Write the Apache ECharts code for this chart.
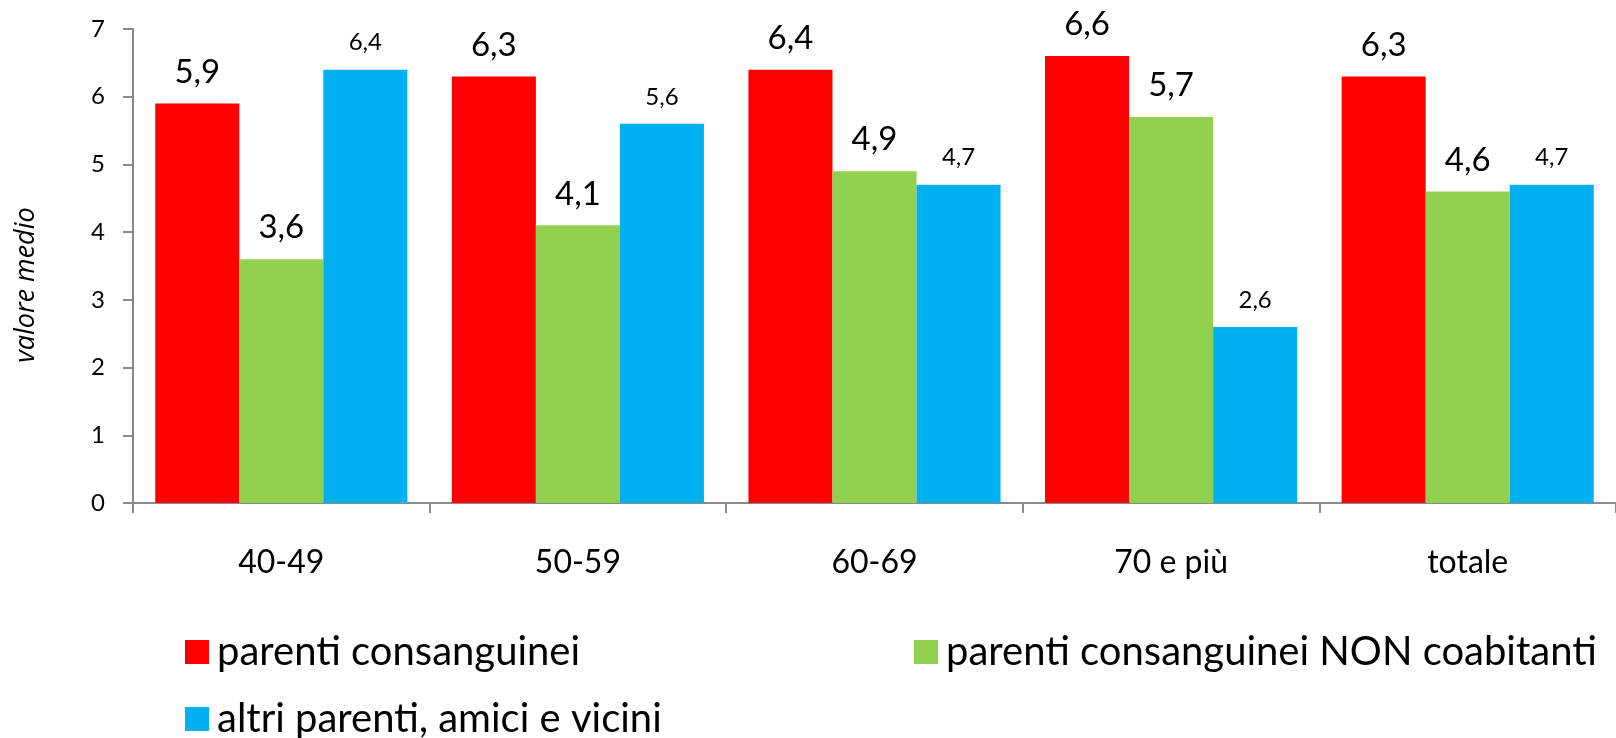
<!DOCTYPE html>
<html>
<head>
<meta charset="utf-8">
<script src="https://cdn.jsdelivr.net/npm/echarts@6/dist/echarts.min.js"></script>
<style>
  html, body { margin: 0; padding: 0; background: #fff; }
  #chart { width: 1616px; height: 738px; }
</style>
</head>
<body>
<div id="chart"></div>
<script>
// Age groups and mean values per type of relationship
const categories = ['40-49', '50-59', '60-69', '70 e più', 'totale'];
const seriesNames = [
  'parenti consanguinei',
  'parenti consanguinei NON coabitanti',
  'altri parenti, amici e vicini'
];
const consanguinei = [5.9, 6.3, 6.4, 6.6, 6.3];
const nonCoabitanti = [3.6, 4.1, 4.9, 5.7, 4.6];
const altriParenti = [6.4, 5.6, 4.7, 2.6, 4.7];
const yTicks = [0, 1, 2, 3, 4, 5, 6, 7];

const FONT = 'Lato';
const axisGray = '#8a8a8a';
const fmt = p => p.value.toFixed(1).replace('.', ',');

function barSeries(name, data, color, labelSize) {
  return {
    name: name,
    type: 'bar',
    data: data,
    barGap: '0%',
    barCategoryGap: '15%',
    itemStyle: { color: color },
    label: {
      show: true,
      position: 'top',
      distance: 15,
      formatter: fmt,
      color: '#000',
      fontFamily: FONT,
      fontSize: labelSize
    }
  };
}

// one legend block per entry, laid out in two columns
function legendItem(name, left, top) {
  return {
    data: [name],
    left: left,
    top: top,
    padding: 0,
    itemWidth: 24,
    itemHeight: 24,
    icon: 'rect',
    textStyle: { color: '#000', fontFamily: FONT, fontSize: 40, lineHeight: 44, padding: [0, 0, 0, 3] }
  };
}

const chart = echarts.init(document.getElementById('chart'), null, { renderer: 'canvas' });
chart.setOption({
  animation: false,
  backgroundColor: '#fff',
  textStyle: { fontFamily: FONT },
  grid: { left: 133, right: -11, top: 29, bottom: 235, containLabel: false },
  xAxis: {
    type: 'category',
    data: categories,
    axisLine: { show: true, lineStyle: { color: axisGray, width: 2 } },
    axisTick: { show: true, alignWithLabel: false, length: 10, lineStyle: { color: axisGray, width: 2 } },
    axisLabel: { color: '#000', fontFamily: FONT, fontSize: 32, margin: 44, interval: 0 },
    splitLine: { show: false }
  },
  yAxis: {
    type: 'value',
    min: yTicks[0],
    max: yTicks[yTicks.length - 1],
    interval: 1,
    name: 'valore medio',
    nameLocation: 'middle',
    nameRotate: 90,
    nameGap: 93,
    nameTextStyle: { color: '#000', fontFamily: 'Open Sans', fontStyle: 'italic', fontSize: 27, padding: [0, 38, 0, 0] },
    axisLine: { show: true, lineStyle: { color: axisGray, width: 2 } },
    axisTick: { show: true, inside: false, length: 10, lineStyle: { color: axisGray, width: 2 } },
    axisLabel: { color: '#000', fontFamily: FONT, fontSize: 24, margin: 28 },
    splitLine: { show: false }
  },
  legend: [
    legendItem(seriesNames[0], 185, 630),
    legendItem(seriesNames[1], 914, 630),
    legendItem(seriesNames[2], 185, 697)
  ],
  series: [
    barSeries(seriesNames[0], consanguinei, '#FF0000', 33),
    barSeries(seriesNames[1], nonCoabitanti, '#92D050', 33),
    barSeries(seriesNames[2], altriParenti, '#00B0F0', 24)
  ]
});
</script>
</body>
</html>
